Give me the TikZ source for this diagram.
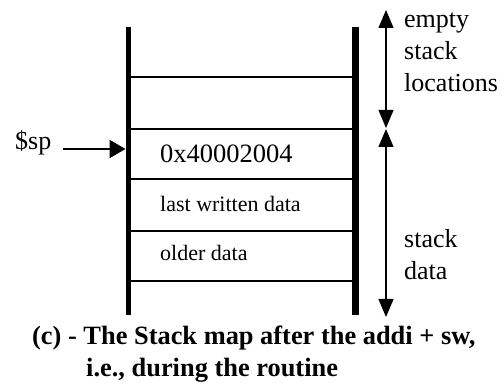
\documentclass[tikz,border=0pt]{standalone}
\usepackage{fontspec}
\setmainfont{Liberation Serif}
\usetikzlibrary{arrows.meta}
\begin{document}
\begin{tikzpicture}[x=1pt,y=-1pt,
  wallL/.style={line width=5pt},
  wallR/.style={line width=6.5pt},
  row/.style={line width=1.6pt},
  cell/.style={anchor=base west, inner sep=0pt, font=\fontsize{22}{26}\selectfont},
  addr/.style={anchor=base west, inner sep=0pt, font=\fontsize{26.5}{30}\selectfont},
  lbl/.style={anchor=base west, inner sep=0pt, font=\fontsize{26}{32}\selectfont},
  captext/.style={anchor=base west, inner sep=0pt, font=\bfseries\fontsize{26.4}{32}\selectfont},
  tri/.tip={Triangle[width=15pt,length=18pt]},
  span/.style={line width=1.2pt, tri-tri},
  ptr/.style={line width=2pt, -{Triangle[width=18pt,length=16pt]}},
]
\useasboundingbox (0,0) rectangle (504,390);

% stack walls
\coordinate (lt) at (128,27);
\coordinate (lb) at (128,315);
\coordinate (rt) at (355.5,27);
\coordinate (rb) at (355.5,315);
\draw[wallL] (lt) -- (lb);
\draw[wallR] (rt) -- (rb);

% slot boundaries
\foreach \y in {77,129,179,231,281}
  \draw[row] (130,\y) -- (353,\y);

% slot contents
\node[addr] (top) at (160,163) {0x40002004};
\node[cell] (last) at (160,212) {last written data};
\node[cell] (old) at (160,261) {older data};

% stack pointer
\node[lbl] (sp) at (15,150) {\$sp};
\coordinate (spin) at (125.5,149);
\draw[ptr] ([shift={(11,-1)}]sp.base east) -- (spin);

% extent arrows
\coordinate (e1) at (386,10);
\coordinate (e2) at (386,128);
\coordinate (d1) at (386,129);
\coordinate (d2) at (386,317);
\draw[span] (e1) -- (e2);
\draw[span] (d1) -- (d2);

\node[lbl] (l1) at (404,28) {empty};
\node[lbl] (l2) at (404,60) {stack};
\node[lbl] (l3) at (404,92) {locations};
\node[lbl] (l4) at (404,248) {stack};
\node[lbl] (l5) at (404,280) {data};

% caption
\node[captext] (c1) at (32,345) {(c) - The Stack map after the addi + sw,};
\node[captext] (c2) at (86,377) {i.e., during the routine};
\end{tikzpicture}
\end{document}
